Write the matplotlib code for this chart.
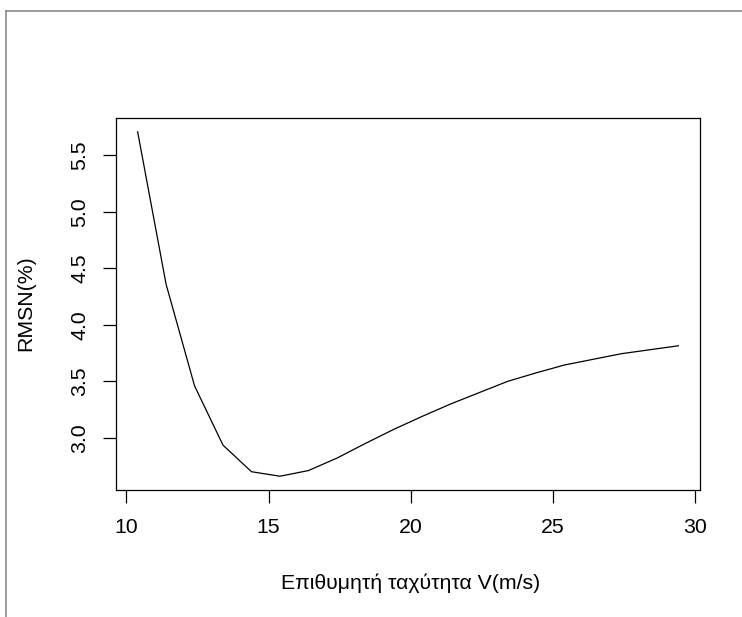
import matplotlib
matplotlib.use('Agg')
import matplotlib.pyplot as plt
from matplotlib.lines import Line2D
import numpy as np

# Δεδομένα (εκτίμηση από την εικόνα)
speed = [10.4, 11.4, 12.4, 13.4, 14.4, 15.4, 16.4, 17.4, 18.4, 19.4,
         20.4, 21.4, 22.4, 23.4, 24.4, 25.4, 26.4, 27.4, 28.4, 29.4]
rmsn = [5.71, 4.36, 3.46, 2.935, 2.70, 2.66, 2.71, 2.82, 2.95, 3.075,
        3.19, 3.30, 3.40, 3.50, 3.575, 3.645, 3.695, 3.745, 3.78, 3.815]
x_ticks = [10, 15, 20, 25, 30]
y_ticks = [3.0, 3.5, 4.0, 4.5, 5.0, 5.5]

plt.rcParams['font.family'] = ['Liberation Sans', 'DejaVu Sans']
font_size = 15.3

fig = plt.figure(figsize=(7.42, 6.17), dpi=100)
ax = fig.add_axes([116 / 742, 1 - 490 / 617, 584 / 742, 372 / 617])

ax.plot(speed, rmsn, color='black', linewidth=0.9)

# limites como no R (4% de margem)
xr = max(speed) - min(speed)
yr = max(rmsn) - min(rmsn)
ax.set_xlim(min(speed) - 0.04 * xr, max(speed) + 0.04 * xr)
ax.set_ylim(min(rmsn) - 0.04 * yr, max(rmsn) + 0.04 * yr)

ax.set_xticks(x_ticks)
ax.set_yticks(y_ticks)
ax.set_xticklabels([str(t) for t in x_ticks])
ax.set_yticklabels(['%.1f' % t for t in y_ticks], rotation=90, va='center')
ax.tick_params(axis='both', direction='out', length=9.4, width=0.9,
               labelsize=font_size, colors='black')
ax.tick_params(axis='x', pad=11)
ax.tick_params(axis='y', pad=9.7)

for s in ax.spines.values():
    s.set_linewidth(0.9)
    s.set_color('black')

ax.set_xlabel('Επιθυμητή ταχύτητα V(m/s)', fontsize=font_size)
ax.set_ylabel('RMSN(%)', fontsize=font_size)
ax.xaxis.set_label_coords((411 - 116) / 584, (490 - 589) / 372)
ax.xaxis.label.set_va('baseline')
ax.yaxis.set_label_coords((31 - 116) / 584, (490 - 303) / 372)
ax.yaxis.label.set_va('baseline')

# moldura cinza externa
fig.add_artist(Line2D([6 / 742, 1], [1 - 11 / 617, 1 - 11 / 617],
                      transform=fig.transFigure, color='#8a8a8a', linewidth=1.2))
fig.add_artist(Line2D([6 / 742, 6 / 742], [0, 1 - 11 / 617],
                      transform=fig.transFigure, color='#8a8a8a', linewidth=1.2))

fig.savefig('out.png', dpi=100)
